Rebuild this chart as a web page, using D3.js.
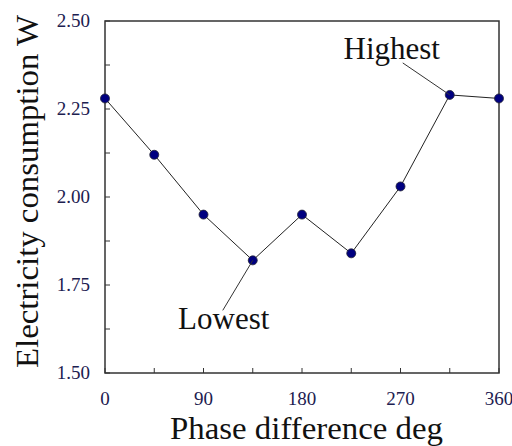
<!DOCTYPE html>
<html>
<head>
<meta charset="utf-8">
<script src="https://cdn.jsdelivr.net/npm/d3@7"></script>
<style>
  body { margin: 0; background: #fff; }
</style>
</head>
<body>
<svg id="chart" width="512" height="446"></svg>
<script>
const phases = [0, 45, 90, 135, 180, 225, 270, 315, 360];
const power = [2.28, 2.12, 1.95, 1.82, 1.95, 1.84, 2.03, 2.29, 2.28];
const xTickLabels = [0, 90, 180, 270, 360];
const yTickLabels = [1.50, 1.75, 2.00, 2.25, 2.50];

const serif = "Liberation Serif";

const margin = {top: 21, right: 13, bottom: 73, left: 105};
const width = 512 - margin.left - margin.right;
const height = 446 - margin.top - margin.bottom;

const svg = d3.select("#chart").attr("font-family", serif);
const g = svg.append("g").attr("transform", `translate(${margin.left},${margin.top})`);

const x = d3.scaleLinear().domain([0, 360]).range([0, width]);
const y = d3.scaleLinear().domain([1.5, 2.5]).range([height, 0]);

// minor inward ticks
const xTicks = d3.range(0, 361, 45);
const yTicks = d3.range(1.5, 2.5001, 0.125);

g.selectAll(".xt").data(xTicks).enter().append("line")
    .attr("x1", d => x(d)).attr("x2", d => x(d))
    .attr("y1", height).attr("y2", height - 5)
    .attr("stroke", "#333").attr("stroke-width", 1);
g.selectAll(".yt").data(yTicks).enter().append("line")
    .attr("x1", 0).attr("x2", 5)
    .attr("y1", d => y(d)).attr("y2", d => y(d))
    .attr("stroke", "#333").attr("stroke-width", 1);

// frame
g.append("rect")
    .attr("width", width).attr("height", height)
    .attr("fill", "none").attr("stroke", "#333").attr("stroke-width", 1.5);

// tick labels
g.selectAll(".xl").data(xTickLabels).enter().append("text")
    .attr("x", d => x(d)).attr("y", height + 32)
    .attr("text-anchor", "middle").attr("font-family", serif)
    .attr("font-size", 19).attr("fill", "#1c2050")
    .text(d => d);
g.selectAll(".yl").data(yTickLabels).enter().append("text")
    .attr("x", -15).attr("y", d => y(d)).attr("dy", "0.33em")
    .attr("text-anchor", "end").attr("font-family", serif)
    .attr("font-size", 19).attr("fill", "#1c2050")
    .text(d => d.toFixed(2));

// line + markers
const line = d3.line().x((d, i) => x(phases[i])).y(d => y(d));
g.append("path").datum(power)
    .attr("d", line).attr("fill", "none")
    .attr("stroke", "#222").attr("stroke-width", 1);

g.selectAll(".pt").data(power).enter().append("circle")
    .attr("cx", (d, i) => x(phases[i])).attr("cy", d => y(d))
    .attr("r", 4.5).attr("fill", "#000080").attr("stroke", "#223").attr("stroke-width", 0.8);

// annotations
const hi = power.indexOf(d3.max(power));
const lo = power.indexOf(d3.min(power));
g.append("line")
    .attr("x1", x(phases[hi])).attr("y1", y(power[hi]))
    .attr("x2", x(phases[hi]) - 47).attr("y2", y(power[hi]) - 32)
    .attr("stroke", "#333").attr("stroke-width", 1);
g.append("text")
    .attr("x", x(phases[hi]) - 58).attr("y", y(power[hi]) - 36)
    .attr("text-anchor", "middle").attr("font-family", serif)
    .attr("font-size", 31).attr("fill", "#111")
    .text("Highest");

g.append("line")
    .attr("x1", x(phases[lo])).attr("y1", y(power[lo]))
    .attr("x2", x(phases[lo]) - 30).attr("y2", y(power[lo]) + 50)
    .attr("stroke", "#333").attr("stroke-width", 1);
g.append("text")
    .attr("x", x(phases[lo]) - 29).attr("y", y(power[lo]) + 69)
    .attr("text-anchor", "middle").attr("font-family", serif)
    .attr("font-size", 31).attr("fill", "#111")
    .text("Lowest");

// axis titles
svg.append("text")
    .attr("x", 306.5).attr("y", 438.5)
    .attr("text-anchor", "middle").attr("font-family", serif)
    .attr("font-size", 31).attr("fill", "#111")
    .attr("textLength", 273).attr("lengthAdjust", "spacingAndGlyphs")
    .text("Phase difference deg");
svg.append("text")
    .attr("transform", `translate(38,191.5) rotate(-90)`)
    .attr("text-anchor", "middle").attr("font-family", serif)
    .attr("font-size", 32).attr("fill", "#111")
    .attr("textLength", 353).attr("lengthAdjust", "spacingAndGlyphs")
    .text("Electricity consumption W");
</script>
</body>
</html>
